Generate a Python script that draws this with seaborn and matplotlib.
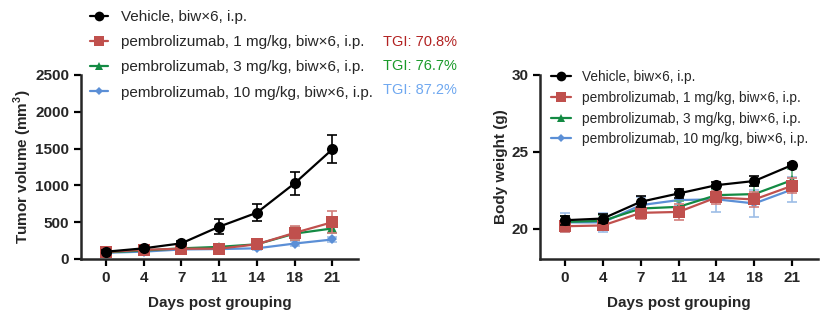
import numpy as np
import pandas as pd
import matplotlib
matplotlib.use("Agg")
import matplotlib.pyplot as plt
from matplotlib.lines import Line2D
import seaborn as sns

sns.set_theme(style="ticks")
plt.rcParams["font.family"] = ["Liberation Sans", "DejaVu Sans"]
plt.rcParams["mathtext.fontset"] = "custom"
plt.rcParams["mathtext.rm"] = "Liberation Sans"
plt.rcParams["mathtext.bf"] = "Liberation Sans:bold"

days = [0, 4, 7, 11, 14, 18, 21]
groups = [
    "Vehicle, biw×6, i.p.",
    "pembrolizumab, 1 mg/kg, biw×6, i.p.",
    "pembrolizumab, 3 mg/kg, biw×6, i.p.",
    "pembrolizumab, 10 mg/kg, biw×6, i.p.",
]
tgi_labels = ["TGI: 70.8%", "TGI: 76.7%", "TGI: 87.2%"]

# Tumor volume (mm^3): mean and SEM per group
tv_vehicle = [99, 145, 213, 439, 629, 1028, 1490]
tv_vehicle_sem = [20, 25, 30, 100, 118, 155, 190]
tv_1mg = [95, 125, 140, 140, 200, 355, 500]
tv_1mg_sem = [15, 20, 20, 25, 30, 100, 150]
tv_3mg = [90, 115, 145, 165, 200, 345, 415]
tv_3mg_sem = [15, 15, 20, 25, 30, 90, 60]
tv_10mg = [85, 100, 130, 135, 145, 210, 265]
tv_10mg_sem = [12, 15, 15, 20, 20, 30, 35]

# Body weight (g): mean and SEM per group
bw_vehicle = [20.54, 20.65, 21.74, 22.28, 22.82, 23.09, 24.13]
bw_vehicle_sem = [0.3, 0.3, 0.35, 0.3, 0.2, 0.3, 0.1]
bw_1mg = [20.15, 20.2, 21.02, 21.08, 22.02, 21.89, 22.78]
bw_1mg_sem = [0.35, 0.3, 0.4, 0.5, 0.4, 0.5, 0.5]
bw_3mg = [20.43, 20.5, 21.3, 21.41, 22.17, 22.24, 23.15]
bw_3mg_sem = [0.4, 0.4, 0.4, 0.4, 0.4, 0.5, 0.7]
bw_10mg = [20.4, 20.4, 21.52, 21.85, 21.9, 21.63, 22.54]
bw_10mg_sem = [0.6, 0.6, 0.5, 0.4, 0.8, 0.9, 0.8]

colors = ["#000000", "#c0504d", "#138a43", "#5b8fd6"]
err_colors = ["#000000", "#d27d7a", "#5fb07f", "#9dbde6"]
tgi_colors = ["#b22222", "#1a9a2a", "#6fa8f0"]
markers = ["o", "s", "^", "D"]
msizes = [8, 8, 7, 5]
zorders = [6, 5, 4, 3]

tv_means = [tv_vehicle, tv_1mg, tv_3mg, tv_10mg]
tv_sems = [tv_vehicle_sem, tv_1mg_sem, tv_3mg_sem, tv_10mg_sem]
bw_means = [bw_vehicle, bw_1mg, bw_3mg, bw_10mg]
bw_sems = [bw_vehicle_sem, bw_1mg_sem, bw_3mg_sem, bw_10mg_sem]

pos = np.arange(len(days))

fig = plt.figure(figsize=(8.26, 3.22), dpi=100)
ax1 = fig.add_axes([81 / 826, 1 - 259 / 322, 277 / 826, 184 / 322])
ax2 = fig.add_axes([540 / 826, 1 - 259.3 / 322, 278 / 826, 184.6 / 322])


def draw_panel(ax, means, sems):
    for i in range(len(groups)):
        df = pd.DataFrame({"pos": pos, "value": means[i]})
        ax.errorbar(pos, means[i], yerr=sems[i], fmt="none", ecolor=err_colors[i],
                    elinewidth=1.2, capsize=3.5, capthick=1.2, zorder=zorders[i] - 0.5)
        sns.lineplot(data=df, x="pos", y="value", ax=ax, color=colors[i],
                     marker=markers[i], markersize=msizes[i], markeredgewidth=0,
                     linewidth=1.6, zorder=zorders[i], legend=False)
    ax.set_xticks(pos)
    ax.set_xticklabels([str(d) for d in days])
    ax.set_xlim(-0.66, 6.68)
    ax.set_xlabel("Days post grouping", fontsize=11, fontweight="bold", labelpad=8)
    for side in ["top", "right"]:
        ax.spines[side].set_visible(False)
    for side in ["left", "bottom"]:
        ax.spines[side].set_linewidth(1.8)
    ax.tick_params(axis="both", width=1.6, length=5, labelsize=11, color="black")
    for lab in ax.get_xticklabels() + ax.get_yticklabels():
        lab.set_fontweight("bold")


draw_panel(ax1, tv_means, tv_sems)
ax1.set_ylim(0, 2500)
ax1.set_yticks([0, 500, 1000, 1500, 2000, 2500])
ax1.set_ylabel("Tumor volume (mm$^\\mathbf{3}$)", fontsize=11, fontweight="bold", labelpad=1)

draw_panel(ax2, bw_means, bw_sems)
ax2.set_ylim(18, 30)
ax2.set_yticks([20, 25, 30])
ax2.set_ylabel("Body weight (g)", fontsize=11, fontweight="bold", labelpad=2)

for lab in ax1.get_yticklabels() + ax2.get_yticklabels():
    lab.set_fontweight("bold")

handles = [Line2D([], [], color=colors[i], marker=markers[i], markersize=msizes[i] - 1,
                  markeredgewidth=0, linewidth=1.6) for i in range(len(groups))]

fig.legend(handles, groups, loc="upper left", bbox_to_anchor=(84 / 826, 1 - 4 / 322),
           frameon=False, fontsize=11, handlelength=1.15, handletextpad=0.85,
           labelspacing=0.73, borderaxespad=0)

ax2.legend(handles, groups, loc="upper left", bbox_to_anchor=(0.021, 1.054),
           frameon=False, fontsize=9.8, handlelength=1.45, handletextpad=0.8,
           labelspacing=0.49, borderaxespad=0)

for i, (txt, y) in enumerate(zip(tgi_labels, [42, 66, 90])):
    fig.text(383 / 826, 1 - y / 322, txt, color=tgi_colors[i], fontsize=10.5, va="center")

fig.savefig("out.png", dpi=100)
